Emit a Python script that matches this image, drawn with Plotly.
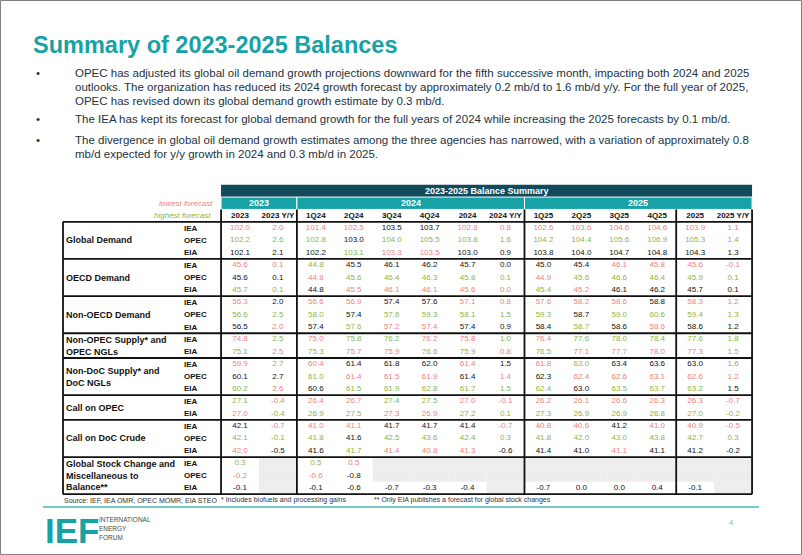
import plotly.graph_objects as go

# ------------------------------------------------------------------ data
COLUMNS = ["2023", "2023 Y/Y", "1Q24", "2Q24", "3Q24", "4Q24", "2024", "2024 Y/Y",
           "1Q25", "2Q25", "3Q25", "4Q25", "2025", "2025 Y/Y"]
YEARS = ["2023", "2024", "2025"]
YEAR_COLUMN_COUNTS = [2, 6, 6]

GROUPS = ["Global Demand", "OECD Demand", "Non-OECD Demand",
          "Non-OPEC Supply* and<br>OPEC NGLs", "Non-DoC Supply* and<br>DoC NGLs",
          "Call on OPEC", "Call on DoC Crude",
          "Global Stock Change and<br>Miscellaneous to<br>Balance**"]
GROUP_AGENCIES = [["IEA", "OPEC", "EIA"], ["IEA", "OPEC", "EIA"], ["IEA", "OPEC", "EIA"],
                  ["IEA", "EIA"], ["IEA", "OPEC", "EIA"], ["IEA", "EIA"],
                  ["IEA", "OPEC", "EIA"], ["IEA", "OPEC", "EIA"]]

# rank codes: L = lowest forecast, H = highest forecast, N = neither, _ = no value
gd_iea = [102.0, 2.0, 101.4, 102.5, 103.5, 103.7, 102.8, 0.8, 102.6, 103.6, 104.6, 104.6, 103.9, 1.1]
gd_iea_rank = "LLLLNNLLLLLLLL"
gd_opec = [102.2, 2.6, 102.8, 103.0, 104.0, 105.5, 103.8, 1.6, 104.2, 104.4, 105.6, 106.9, 105.3, 1.4]
gd_opec_rank = "HHHNHHHHHHHHHH"
gd_eia = [102.1, 2.1, 102.2, 103.1, 103.3, 103.5, 103.0, 0.9, 103.8, 104.0, 104.7, 104.8, 104.3, 1.3]
gd_eia_rank = "NNNHLLNNNNNNNN"

oecd_iea = [45.6, 0.1, 44.8, 45.5, 46.1, 46.2, 45.7, 0.0, 45.0, 45.4, 46.1, 45.8, 45.6, -0.1]
oecd_iea_rank = "LLHNNNNNNNLLLL"
oecd_opec = [45.6, 0.1, 44.8, 45.6, 46.4, 46.3, 45.8, 0.1, 44.9, 45.6, 46.6, 46.4, 45.9, 0.1]
oecd_opec_rank = "NNLHHHHHLHHHHH"
oecd_eia = [45.7, 0.1, 44.8, 45.5, 46.1, 46.1, 45.6, 0.0, 45.4, 45.2, 46.1, 46.2, 45.7, 0.1]
oecd_eia_rank = "HHNLLLLLHLNNNN"

nonoecd_iea = [56.3, 2.0, 56.6, 56.9, 57.4, 57.6, 57.1, 0.8, 57.6, 58.2, 58.6, 58.8, 58.3, 1.2]
nonoecd_iea_rank = "LNLLNNLLLLLNLL"
nonoecd_opec = [56.6, 2.5, 58.0, 57.4, 57.6, 59.3, 58.1, 1.5, 59.3, 58.7, 59.0, 60.6, 59.4, 1.3]
nonoecd_opec_rank = "HHHNHHHHHNHHHH"
nonoecd_eia = [56.5, 2.0, 57.4, 57.6, 57.2, 57.4, 57.4, 0.9, 58.4, 58.7, 58.6, 58.6, 58.6, 1.2]
nonoecd_eia_rank = "NLNHLLNNNHNLNN"

nonopec_iea = [74.8, 2.5, 75.0, 75.8, 76.2, 76.2, 75.8, 1.0, 76.4, 77.6, 78.0, 78.4, 77.6, 1.8]
nonopec_iea_rank = "LHLHHLLHLHHHHH"
nonopec_eia = [75.1, 2.5, 75.3, 75.7, 75.9, 76.6, 75.9, 0.8, 76.5, 77.1, 77.7, 78.0, 77.3, 1.5]
nonopec_eia_rank = "HLHLLHHLHLLLLL"

nondoc_iea = [59.9, 2.7, 60.4, 61.4, 61.8, 62.0, 61.4, 1.5, 61.8, 63.0, 63.4, 63.6, 63.0, 1.6]
nondoc_iea_rank = "LHLNNNLNLHNNNH"
nondoc_opec = [60.1, 2.7, 61.0, 61.4, 61.5, 61.9, 61.4, 1.4, 62.3, 62.4, 62.6, 63.1, 62.6, 1.2]
nondoc_opec_rank = "NNHLLLNLNLLLLL"
nondoc_eia = [60.2, 2.6, 60.6, 61.5, 61.9, 62.8, 61.7, 1.5, 62.4, 63.0, 63.5, 63.7, 63.2, 1.5]
nondoc_eia_rank = "HLNHHHHHHNHHHN"

callopec_iea = [27.1, -0.4, 26.4, 26.7, 27.4, 27.5, 27.0, -0.1, 26.2, 26.1, 26.6, 26.3, 26.3, -0.7]
callopec_iea_rank = "HLLLHHLLLLLLLL"
callopec_eia = [27.0, -0.4, 26.9, 27.5, 27.3, 26.9, 27.2, 0.1, 27.3, 26.9, 26.9, 26.8, 27.0, -0.2]
callopec_eia_rank = "LHHHLLHHHHHHHH"

calldoc_iea = [42.1, -0.7, 41.0, 41.1, 41.7, 41.7, 41.4, -0.7, 40.8, 40.6, 41.2, 41.0, 40.9, -0.5]
calldoc_iea_rank = "NLLLNNNLLLNLLL"
calldoc_opec = [42.1, -0.1, 41.8, 41.6, 42.5, 43.6, 42.4, 0.3, 41.8, 42.0, 43.0, 43.8, 42.7, 0.3]
calldoc_opec_rank = "HHHNHHHHHHHHHH"
calldoc_eia = [42.0, -0.5, 41.6, 41.7, 41.4, 40.8, 41.3, -0.6, 41.4, 41.0, 41.1, 41.1, 41.2, -0.2]
calldoc_eia_rank = "LNNHLLLNNNLNNN"

stock_iea = [0.3, None, 0.5, 0.5, None, None, None, None, None, None, None, None, None, None]
stock_iea_rank = "H_HL__________"
stock_opec = [-0.2, None, -0.6, -0.8, None, None, None, None, None, None, None, None, None, None]
stock_opec_rank = "L_LN__________"
stock_eia = [-0.1, None, -0.1, -0.6, -0.7, -0.3, -0.4, None, -0.7, 0.0, 0.0, 0.4, -0.1, None]
stock_eia_rank = "N_NNNNN_NNNNN_"

ROWS = [(gd_iea, gd_iea_rank), (gd_opec, gd_opec_rank), (gd_eia, gd_eia_rank),
        (oecd_iea, oecd_iea_rank), (oecd_opec, oecd_opec_rank), (oecd_eia, oecd_eia_rank),
        (nonoecd_iea, nonoecd_iea_rank), (nonoecd_opec, nonoecd_opec_rank), (nonoecd_eia, nonoecd_eia_rank),
        (nonopec_iea, nonopec_iea_rank), (nonopec_eia, nonopec_eia_rank),
        (nondoc_iea, nondoc_iea_rank), (nondoc_opec, nondoc_opec_rank), (nondoc_eia, nondoc_eia_rank),
        (callopec_iea, callopec_iea_rank), (callopec_eia, callopec_eia_rank),
        (calldoc_iea, calldoc_iea_rank), (calldoc_opec, calldoc_opec_rank), (calldoc_eia, calldoc_eia_rank),
        (stock_iea, stock_iea_rank), (stock_opec, stock_opec_rank), (stock_eia, stock_eia_rank)]

TITLE = "Summary of 2023-2025 Balances"
BULLETS = [
    ["OPEC has adjusted its global oil demand growth projections downward for the fifth successive month, impacting both 2024 and 2025",
     "outlooks. The organization has reduced its 2024 growth forecast by approximately 0.2 mb/d to 1.6 mb/d y/y. For the full year of 2025,",
     "OPEC has revised down its global demand growth estimate by 0.3 mb/d."],
    ["The IEA has kept its forecast for global demand growth for the full years of 2024 while increasing the 2025 forecasts by 0.1 mb/d."],
    ["The divergence in global oil demand growth estimates among the three agencies has narrowed, with a variation of approximately 0.8",
     "mb/d expected for y/y growth in 2024 and 0.3 mb/d in 2025."],
]
TABLE_TITLE = "2023-2025 Balance Summary"
SOURCE_NOTES = ["Source: IEF, IEA OMR, OPEC MOMR, EIA STEO",
                "* Includes biofuels and processing gains",
                "** Only EIA publishes a forecast for global stock changes"]

# ------------------------------------------------------------------ styling
W, H = 802, 555
COL_W = 37.93
ROW_H = 12.38
X_C0 = 240.0
Y_R0 = 228.0
FONT = "Liberation Sans, Arial, sans-serif"
PINK = "#F07F7D"
GREEN = "#8DB544"
BLACK = "#111111"
TEAL = "#17A2A6"
DARK = "#124A5C"
TEXT = "#233240"
GRAYCELL = "#EDEDED"
RANK_COLOR = {"L": PINK, "H": GREEN, "N": BLACK, "_": BLACK}


def xd(px):
    return (px - X_C0) / COL_W


def yd(py):
    return (py - Y_R0) / ROW_H


def px_(x):
    return x / W


def py_(y):
    return 1 - y / H


NCOL = len(COLUMNS)
X_LEFT = xd(63)
X_RIGHT = NCOL - 0.5

fig = go.Figure()
shapes = []
annotations = []

group_starts = []
r = 0
for ags in GROUP_AGENCIES:
    group_starts.append(r)
    r += len(ags)
NROWS = r

# ---- cell values
xs, ys, texts, colors = [], [], [], []
for ri, (vals, ranks) in enumerate(ROWS):
    for ci, v in enumerate(vals):
        if v is None:
            shapes.append(dict(type="rect", xref="x", yref="y", x0=ci - 0.5, x1=ci + 0.5,
                               y0=ri - 0.5, y1=ri + 0.5, fillcolor=GRAYCELL,
                               line=dict(width=0), layer="below"))
            continue
        xs.append(ci)
        ys.append(ri)
        texts.append(f"{v:.1f}")
        colors.append(RANK_COLOR[ranks[ci]])

fig.add_trace(go.Scatter(x=xs, y=ys, text=texts, mode="text", hoverinfo="skip",
                         textfont=dict(family=FONT, size=8, color=colors),
                         textposition="middle center", showlegend=False))

fig.add_trace(go.Scatter(x=list(range(NCOL)), y=[-1] * NCOL,
                         text=[f"<b>{c}</b>" for c in COLUMNS], mode="text", hoverinfo="skip",
                         textfont=dict(family=FONT, size=8, color=BLACK),
                         textposition="middle center", showlegend=False))

# ---- header bands
shapes.append(dict(type="rect", xref="x", yref="y", x0=-0.5, x1=X_RIGHT, y0=-3.5, y1=-2.5,
                   fillcolor=DARK, line=dict(width=0), layer="below"))
annotations.append(dict(xref="x", yref="y", x=(X_RIGHT - 0.5) / 2, y=-3,
                        text=f"<b>{TABLE_TITLE}</b>", showarrow=False,
                        font=dict(family=FONT, size=9, color="white")))
start = 0
for yr, n in zip(YEARS, YEAR_COLUMN_COUNTS):
    shapes.append(dict(type="rect", xref="x", yref="y", x0=start - 0.5, x1=start + n - 0.5,
                       y0=-2.5, y1=-1.5, fillcolor=TEAL, line=dict(width=1, color="white"),
                       layer="below"))
    annotations.append(dict(xref="x", yref="y", x=start + (n - 1) / 2, y=-2,
                            text=f"<b>{yr}</b>", showarrow=False,
                            font=dict(family=FONT, size=9, color="white")))
    start += n

annotations.append(dict(xref="x", yref="y", x=xd(215), y=-2, xanchor="right",
                        text="<i>lowest forecast</i>", showarrow=False,
                        font=dict(family=FONT, size=8, color=PINK)))
annotations.append(dict(xref="x", yref="y", x=xd(213), y=-1, xanchor="right",
                        text="<i>highest forecast</i>", showarrow=False,
                        font=dict(family=FONT, size=8, color=GREEN)))

# ---- group and agency labels
for g, ags, s in zip(GROUPS, GROUP_AGENCIES, group_starts):
    annotations.append(dict(xref="x", yref="y", x=xd(64), y=s + (len(ags) - 1) / 2,
                            xanchor="left", yanchor="middle", align="left",
                            text=f"<b>{g}</b>", showarrow=False,
                            font=dict(family=FONT, size=9, color=BLACK)))
    for k, a in enumerate(ags):
        annotations.append(dict(xref="x", yref="y", x=xd(182), y=s + k, xanchor="left",
                                text=f"<b>{a}</b>", showarrow=False,
                                font=dict(family=FONT, size=8, color=BLACK)))

# ---- borders
LW = 1.8
for s in group_starts + [NROWS]:
    shapes.append(dict(type="line", xref="x", yref="y", x0=X_LEFT, x1=X_RIGHT,
                       y0=s - 0.5, y1=s - 0.5, line=dict(color=BLACK, width=LW)))
shapes.append(dict(type="line", xref="x", yref="y", x0=X_LEFT, x1=X_LEFT,
                   y0=-0.5, y1=NROWS - 0.5, line=dict(color=BLACK, width=LW)))
bounds = [-0.5]
acc = 0
for n in YEAR_COLUMN_COUNTS:
    acc += n
    bounds.append(acc - 0.5)
bounds.append(11.5)  # annual columns separated from 2025 quarters
for b in sorted(set(bounds)):
    shapes.append(dict(type="line", xref="x", yref="y", x0=b, x1=b,
                       y0=-1.5, y1=NROWS - 0.5, line=dict(color=BLACK, width=LW)))

# ---- slide text
annotations.append(dict(xref="paper", yref="paper", x=px_(31), y=py_(45), xanchor="left",
                        yanchor="middle", text=f"<b>{TITLE}</b>", showarrow=False,
                        font=dict(family=FONT, size=23.5, color=TEAL)))
line_y = [[73, 87, 101], [118.5], [139.5, 154]]
for lines, ys_ in zip(BULLETS, line_y):
    annotations.append(dict(xref="paper", yref="paper", x=px_(34), y=py_(ys_[0]),
                            xanchor="left", yanchor="middle", text="•", showarrow=False,
                            font=dict(family=FONT, size=11.5, color=TEXT)))
    for t, yy in zip(lines, ys_):
        annotations.append(dict(xref="paper", yref="paper", x=px_(73), y=py_(yy),
                                xanchor="left", yanchor="middle", text=t, showarrow=False,
                                font=dict(family=FONT, size=11.5, color=TEXT)))

for t, xx in zip(SOURCE_NOTES, [62, 219, 372]):
    annotations.append(dict(xref="paper", yref="paper", x=px_(xx), y=py_(500),
                            xanchor="left", yanchor="middle", text=t, showarrow=False,
                            font=dict(family=FONT, size=7, color="#333333")))

shapes.append(dict(type="line", xref="paper", yref="paper", x0=px_(43), x1=px_(759),
                   y0=py_(507), y1=py_(507), line=dict(color="#74C9CB", width=2)))

annotations.append(dict(xref="paper", yref="paper", x=px_(43), y=py_(530), xanchor="left",
                        yanchor="middle", text="<b>IEF</b>", showarrow=False,
                        font=dict(family=FONT, size=35, color=TEAL)))
for t, yy in zip(["INTERNATIONAL", "ENERGY", "FORUM"], [519, 528, 537]):
    annotations.append(dict(xref="paper", yref="paper", x=px_(97), y=py_(yy), xanchor="left",
                            yanchor="middle", text=t, showarrow=False,
                            font=dict(family=FONT, size=6.5, color="#4A4A4A")))
annotations.append(dict(xref="paper", yref="paper", x=px_(736), y=py_(529),
                        text="4", showarrow=False,
                        font=dict(family=FONT, size=8, color="#AAAAAA")))

shapes.append(dict(type="rect", xref="paper", yref="paper", x0=px_(0.5), x1=px_(801.5),
                   y0=py_(554.5), y1=py_(0.5), line=dict(color="#808080", width=1)))

fig.update_layout(
    width=W, height=H, margin=dict(l=0, r=0, t=0, b=0),
    paper_bgcolor="white", plot_bgcolor="white",
    xaxis=dict(range=[xd(0), xd(W)], visible=False, fixedrange=True),
    yaxis=dict(range=[yd(H), yd(0)], visible=False, fixedrange=True),
    shapes=shapes, annotations=annotations, showlegend=False,
)

fig.write_html("out.html", config={"displayModeBar": False},
               post_script="document.body.style.margin='0';document.body.style.overflow='hidden';")
